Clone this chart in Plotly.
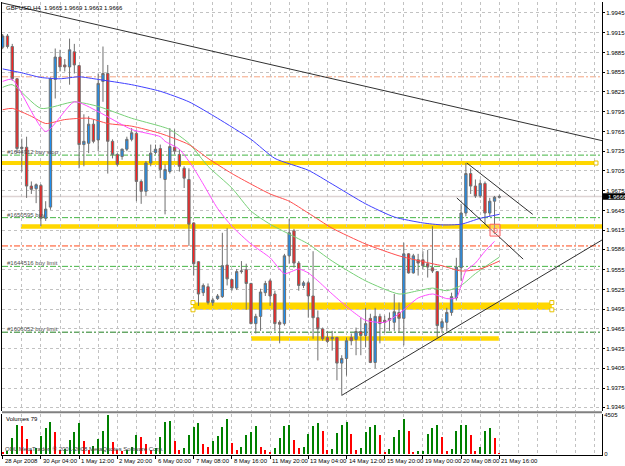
import plotly.graph_objects as go

# ---------------- data ----------------
bar_index = list(range(105))

open_ = [1.9893,1.9910,1.9894,1.9845,1.9739,1.9741,1.9682,1.9678,1.9683,1.9633,
         1.9650,1.9844,1.9878,1.9866,1.9863,1.9886,1.9865,1.9745,1.9747,1.9776,
         1.9752,1.9841,1.9853,1.9750,1.9730,1.9727,1.9738,1.9753,1.9762,1.9689,
         1.9674,1.9717,1.9733,1.9739,1.9692,1.9704,1.9741,1.9730,1.9709,1.9692,
         1.9626,1.9567,1.9520,1.9529,1.9505,1.9511,1.9514,1.9562,1.9540,1.9527,
         1.9552,1.9555,1.9534,1.9473,1.9484,1.9520,1.9538,1.9518,1.9475,1.9473,
         1.9576,1.9614,1.9565,1.9531,1.9535,1.9515,1.9482,1.9465,1.9452,1.9450,
         1.9452,1.9413,1.9420,1.9452,1.9449,1.9461,1.9455,1.9481,1.9414,1.9484,
         1.9478,1.9481,1.9475,1.9490,1.9481,1.9579,1.9550,1.9570,1.9570,1.9564,
         1.9558,1.9552,1.9467,1.9475,1.9490,1.9512,1.9558,1.9641,1.9701,1.9682,
         1.9667,1.9686,1.9641,1.9659,1.9665]
high = [1.9913,1.9913,1.9898,1.9846,1.9754,1.9757,1.9689,1.9686,1.9685,1.9659,
        1.9847,1.9891,1.9889,1.9875,1.9906,1.9898,1.9866,1.9791,1.9788,1.9783,
        1.9853,1.9894,1.9866,1.9753,1.9732,1.9739,1.9757,1.9770,1.9765,1.9692,
        1.9720,1.9745,1.9745,1.9745,1.9715,1.9770,1.9768,1.9738,1.9712,1.9709,
        1.9627,1.9568,1.9534,1.9534,1.9512,1.9518,1.9611,1.9618,1.9541,1.9556,
        1.9568,1.9564,1.9535,1.9488,1.9526,1.9538,1.9541,1.9523,1.9478,1.9579,
        1.9632,1.9617,1.9568,1.9538,1.9538,1.9583,1.9493,1.9467,1.9462,1.9462,
        1.9453,1.9425,1.9452,1.9458,1.9467,1.9482,1.9497,1.9488,1.9497,1.9488,
        1.9485,1.9490,1.9518,1.9505,1.9596,1.9580,1.9579,1.9579,1.9583,1.9585,
        1.9621,1.9553,1.9481,1.9497,1.9520,1.9573,1.9655,1.9717,1.9709,1.9692,
        1.9692,1.9689,1.9664,1.9667,1.9669]
low = [1.9890,1.9891,1.9842,1.9732,1.9704,1.9664,1.9670,1.9656,1.9621,1.9629,
       1.9646,1.9815,1.9856,1.9856,1.9836,1.9853,1.9709,1.9712,1.9732,1.9747,
       1.9735,1.9810,1.9701,1.9724,1.9712,1.9722,1.9735,1.9750,1.9659,1.9655,
       1.9667,1.9712,1.9730,1.9694,1.9639,1.9701,1.9730,1.9704,1.9679,1.9591,
       1.9546,1.9500,1.9515,1.9502,1.9500,1.9509,1.9512,1.9531,1.9523,1.9524,
       1.9549,1.9494,1.9472,1.9458,1.9462,1.9515,1.9500,1.9462,1.9443,1.9470,
       1.9564,1.9558,1.9523,1.9527,1.9482,1.9450,1.9417,1.9447,1.9443,1.9432,
       1.9387,1.9364,1.9394,1.9440,1.9425,1.9425,1.9437,1.9413,1.9405,1.9443,
       1.9459,1.9462,1.9462,1.9459,1.9440,1.9549,1.9549,1.9546,1.9556,1.9543,
       1.9550,1.9452,1.9459,1.9462,1.9485,1.9508,1.9538,1.9636,1.9670,1.9664,
       1.9664,1.9624,1.9636,1.9609,1.9663]
close = [1.9910,1.9894,1.9845,1.9739,1.9741,1.9682,1.9677,1.9684,1.9633,1.9647,
         1.9845,1.9878,1.9863,1.9863,1.9889,1.9866,1.9745,1.9750,1.9776,1.9750,
         1.9838,1.9853,1.9750,1.9730,1.9715,1.9738,1.9753,1.9763,1.9689,1.9674,
         1.9717,1.9732,1.9738,1.9707,1.9707,1.9742,1.9735,1.9712,1.9694,1.9624,
         1.9564,1.9518,1.9531,1.9505,1.9509,1.9515,1.9561,1.9541,1.9527,1.9552,
         1.9553,1.9534,1.9473,1.9484,1.9521,1.9534,1.9515,1.9473,1.9472,1.9576,
         1.9611,1.9565,1.9531,1.9535,1.9515,1.9482,1.9465,1.9450,1.9446,1.9452,
         1.9413,1.9420,1.9447,1.9447,1.9461,1.9455,1.9473,1.9414,1.9484,1.9473,
         1.9475,1.9478,1.9491,1.9481,1.9579,1.9550,1.9576,1.9565,1.9561,1.9559,
         1.9553,1.9470,1.9476,1.9490,1.9514,1.9559,1.9641,1.9701,1.9682,1.9667,
         1.9686,1.9641,1.9659,1.9665,1.9666]
volume = [250,380,1810,3350,3234,1694,450,650,2079,2965,
          3734,2579,420,600,1617,2503,3619,1540,450,850,
          1733,2695,4505,1424,500,380,460,847,2233,2002,
          1117,450,700,2002,3734,3812,1502,400,732,2195,
          3080,3619,1155,847,1502,2079,3080,4081,1309,450,
          847,2233,2503,3234,847,420,250,655,1810,3234,
          3300,1617,732,847,2310,3250,3542,2600,460,580,
          2400,3300,3700,2300,460,655,2500,3100,3400,2200,
          200,580,2000,2800,4000,2600,150,310,330,2300,
          3000,3300,2000,310,540,2600,3300,3400,2200,380,
          770,2700,3000,1800,79]

# moving averages sampled along the drawn lines (bar, price)
ma_blue_x = [0,4,8,12,16,20,27,33,39,45,52,57,64,69,76,82,88,92,96,100,104]
ma_blue_y = [1.9860,1.9854,1.9847,1.9845,1.9848,1.9844,1.9836,1.9826,1.9810,1.9785,
             1.9753,1.9724,1.9706,1.9685,1.9655,1.9635,1.9626,1.9623,1.9624,1.9633,1.9639]
ma_green_x = [0,2,8,15,20,27,33,35,39,43,48,52,56,60,64,69,76,83,87,90,93,96,99,104]
ma_green_y = [1.9832,1.9836,1.9800,1.9810,1.9803,1.9785,1.9773,1.9768,1.9747,1.9712,
              1.9679,1.9644,1.9624,1.9609,1.9594,1.9568,1.9538,1.9518,1.9523,1.9527,
              1.9523,1.9531,1.9549,1.9574]
ma_red_x = [0,2,6,9,13,18,22,27,33,39,43,48,52,56,60,64,69,76,83,90,92,96,100,104]
ma_red_y = [1.9798,1.9800,1.9788,1.9777,1.9783,1.9785,1.9777,1.9773,1.9762,1.9745,
            1.9724,1.9701,1.9685,1.9670,1.9659,1.9641,1.9618,1.9594,1.9576,1.9564,
            1.9561,1.9553,1.9556,1.9568]
ma_pink_x = [0,2,9,15,20,27,33,34,37,40,42,45,48,52,56,59,62,64,66,69,73,76,80,83,
             87,90,93,95,96,97,99,101,103]
ma_pink_y = [1.9841,1.9844,1.9765,1.9810,1.9795,1.9768,1.9757,1.9750,1.9738,1.9709,
             1.9685,1.9648,1.9621,1.9594,1.9573,1.9549,1.9556,1.9550,1.9538,1.9518,
             1.9493,1.9478,1.9475,1.9488,1.9512,1.9518,1.9511,1.9512,1.9531,1.9553,
             1.9565,1.9583,1.9598]

# trend lines (bar, price end points)
trend_down_x = [-0.6, 125.5]
trend_down_y = [1.9961, 1.9751]
trend_up_x = [71, 125.5]
trend_up_y = [1.9364, 1.9600]
wedge_top_x = [97.2, 111.0]
wedge_top_y = [1.9717, 1.9639]
wedge_bot_x = [95.1, 109.0]
wedge_bot_y = [1.9664, 1.9571]

# yellow rectangles: (bar_from, bar_to, price_low, price_high)
zone_x0 = [-0.6, 3.8, 39.85, 52.0]
zone_x1 = [124.25, 127.0, 115.0, 103.9]
zone_lo = [1.9714, 1.9617, 1.9494, 1.9447]
zone_hi = [1.9720, 1.9624, 1.9505, 1.9454]
handle_x = [124.25, 39.85, 39.85, 115.0, 115.0]
handle_y = [1.9717, 1.9505, 1.9494, 1.9505, 1.9494]

# order / level lines
level_price = [1.9848, 1.9729, 1.9634, 1.9591, 1.9560, 1.9460]
level_color = ["#f4a582", "#45b545", "#45b545", "#ff4a1a", "#45b545", "#1e7d1e"]
order_label = ["#1644912 buy stop", "#1650595 buy", "#1644516 buy limit", "#1606052 buy limit"]
order_price = [1.9729, 1.9634, 1.9560, 1.9460]
bid_price = 1.9666
signal_box = (102.05, 104.15, 1.9606, 1.9624)

price_ticks = [1.9945,1.9915,1.9885,1.9855,1.9825,1.9795,1.9765,1.9735,1.9705,1.9675,
               1.9645,1.9615,1.9586,1.9555,1.9525,1.9495,1.9465,1.9435,1.9405,1.9375,1.9346]
date_ticks = list(range(0, 105, 8))
date_labels = ["28 Apr 2008","30 Apr 04:00","1 May 12:00","2 May 20:00","6 May 00:00",
               "7 May 08:00","8 May 16:00","11 May 20:00","13 May 04:00","14 May 12:00",
               "15 May 20:00","19 May 00:00","20 May 08:00","21 May 16:00"]
title_text = "GBPUSD,H4  1.9665 1.9669 1.9663 1.9666"

# ---------------- figure ----------------
FONT = "Liberation Sans, Arial, sans-serif"
GRID = "#c2c2c2"

fig = go.Figure()

fig.add_trace(go.Candlestick(
    x=bar_index, open=open_, high=high, low=low, close=close,
    increasing=dict(fillcolor="#1e8ff0", line=dict(color="#707070", width=1)),
    decreasing=dict(fillcolor="#ff1e1e", line=dict(color="#707070", width=1)),
    whiskerwidth=0, hoverinfo="skip", showlegend=False, xaxis="x", yaxis="y"))

for xs, ys, col in [(ma_blue_x, ma_blue_y, "#4040ff"), (ma_green_x, ma_green_y, "#78d078"),
                    (ma_red_x, ma_red_y, "#ff4d4d"), (ma_pink_x, ma_pink_y, "#ff4dff")]:
    fig.add_trace(go.Scatter(x=xs, y=ys, mode="lines", hoverinfo="skip", showlegend=False,
                             line=dict(color=col, width=1, shape="spline", smoothing=0.6),
                             xaxis="x", yaxis="y"))

for xs, ys in [(trend_down_x, trend_down_y), (trend_up_x, trend_up_y),
               (wedge_top_x, wedge_top_y), (wedge_bot_x, wedge_bot_y)]:
    fig.add_trace(go.Scatter(x=xs, y=ys, mode="lines", hoverinfo="skip", showlegend=False,
                             line=dict(color="#303030", width=1), xaxis="x", yaxis="y"))

fig.add_trace(go.Scatter(x=handle_x, y=handle_y, mode="markers", hoverinfo="skip", showlegend=False,
                         marker=dict(symbol="square", size=4, color="white",
                                     line=dict(color="#e6c200", width=1)),
                         xaxis="x", yaxis="y"))

vol_colors = ["#ff0000"] + ["#008000" if volume[i] > volume[i - 1] else "#ff0000"
                            for i in range(1, len(volume))]
fig.add_trace(go.Bar(x=bar_index, y=volume, marker=dict(color=vol_colors, line=dict(width=0)),
                     width=0.42, hoverinfo="skip", showlegend=False, xaxis="x", yaxis="y2"))

shapes = []
for x0, x1, lo, hi in zip(zone_x0, zone_x1, zone_lo, zone_hi):
    shapes.append(dict(type="rect", xref="x", yref="y", x0=x0, x1=x1, y0=lo, y1=hi,
                       fillcolor="#ffd700", line=dict(width=0), layer="below"))
for p, c in zip(level_price, level_color):
    shapes.append(dict(type="line", xref="paper", yref="y", x0=0, x1=1, y0=p, y1=p,
                       line=dict(color=c, width=1, dash="6px,2px,2px,2px"), layer="below"))
shapes.append(dict(type="line", xref="paper", yref="y", x0=0, x1=1, y0=bid_price, y1=bid_price,
                   line=dict(color="#ddd3d3", width=1.5), layer="below"))
bx0, bx1, by0, by1 = signal_box
shapes.append(dict(type="rect", xref="x", yref="y", x0=bx0, x1=bx1, y0=by0, y1=by1,
                   fillcolor="rgba(255,210,210,0.35)", line=dict(color="#ff6060", width=1)))
# current price tag on the axis
shapes.append(dict(type="rect", xref="paper", yref="y", x0=1.0017, x1=1.05,
                   y0=bid_price - 0.00048, y1=bid_price + 0.00052, fillcolor="black",
                   line=dict(width=0)))
# separator between price and volume windows
shapes.append(dict(type="line", xref="paper", yref="paper", x0=0, x1=1, y0=0.0945, y1=0.0945,
                   line=dict(color="#808080", width=2)))

annotations = []
annotations.append(dict(xref="paper", yref="paper", x=0.0033, y=0.9868, text=title_text,
                        showarrow=False, xanchor="left", yanchor="middle",
                        font=dict(family=FONT, size=6, color="#000000")))
annotations.append(dict(xref="paper", yref="paper", x=0.0033, y=0.0802, text="Volumes 79",
                        showarrow=False, xanchor="left", yanchor="middle",
                        font=dict(family=FONT, size=6, color="#000000")))
annotations.append(dict(xref="paper", yref="paper", x=0.0017, y=0.0132,
                        text="ODL MetaTrader, \u00a9 2001-2008 MetaQuotes Software Corp.",
                        showarrow=False, xanchor="left", yanchor="middle",
                        font=dict(family=FONT, size=6, color="#404040")))
for txt, p in zip(order_label, order_price):
    annotations.append(dict(xref="paper", yref="y", x=0.005, y=p, yshift=3, text=txt,
                            showarrow=False, xanchor="left", yanchor="middle",
                            font=dict(family=FONT, size=6, color="#505050")))
for b, txt in zip(date_ticks, date_labels):
    annotations.append(dict(xref="x", yref="paper", x=b, y=-0.0135, text=txt, xshift=0,
                            showarrow=False, xanchor="left", yanchor="middle",
                            font=dict(family=FONT, size=6, color="#000000")))
annotations.append(dict(xref="paper", yref="y", x=1.006, y=bid_price, text="1.9666",
                        showarrow=False, xanchor="left", yanchor="middle",
                        font=dict(family=FONT, size=6, color="white")))
annotations.append(dict(xref="x", yref="y", x=(bx0 + bx1) / 2, y=(by0 + by1) / 2, text="D",
                        showarrow=False, font=dict(family=FONT, size=7, color="#ff5a5a")))

x_lo = -0.1466
x_hi = x_lo + 600 / 4.775
fig.update_layout(
    width=625, height=466,
    margin=dict(l=2, r=23, t=0, b=11),
    paper_bgcolor="white", plot_bgcolor="white",
    showlegend=False, bargap=0,
    font=dict(family=FONT, size=6, color="black"),
    shapes=shapes, annotations=annotations,
    xaxis=dict(range=[x_lo, x_hi], anchor="y2", tickvals=date_ticks, ticktext=[""] * len(date_ticks),
               ticks="outside", ticklen=3, tickcolor="black", showline=True, linecolor="black",
               linewidth=1, showgrid=True, gridcolor=GRID, griddash="dot", gridwidth=1,
               minor=dict(tickvals=list(range(4, 105, 8)) + [108, 112, 116, 120, 124],
                          showgrid=True, gridcolor=GRID, griddash="dot", ticks=""),
               rangeslider=dict(visible=False), zeroline=False, fixedrange=True),
    yaxis=dict(domain=[0.0967, 1], range=[1.933995, 1.996164], side="right", anchor="x",
               tickvals=price_ticks, ticktext=["%.4f" % v for v in price_ticks],
               ticks="outside", ticklen=2, tickcolor="black", showline=True, mirror=True,
               linecolor="black", linewidth=1, showgrid=True, gridcolor=GRID, griddash="dot",
               zeroline=False, tickfont=dict(family=FONT, size=6, color="black"), fixedrange=True),
    yaxis2=dict(domain=[0, 0.0901], range=[-115.5, 4620], side="right", anchor="x",
                tickvals=[0, 4505], ticktext=["0", "4505"], ticks="", showline=True, mirror=True,
                linecolor="black", linewidth=1, showgrid=False, zeroline=False,
                tickfont=dict(family=FONT, size=6, color="black"), fixedrange=True),
)

fig.write_html("out.html")
